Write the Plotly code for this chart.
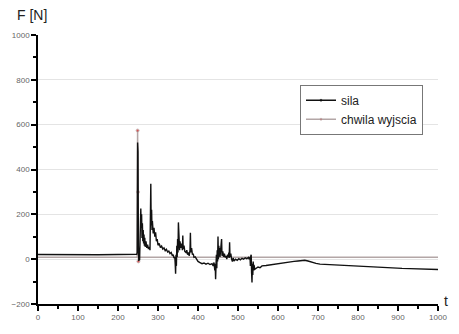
import plotly.graph_objects as go

# Force signal "sila" [N] vs time t
t_sila = [0, 50, 100, 150, 200, 247, 248, 249, 250, 251, 252, 253, 254, 255, 256, 257, 258, 259,
          260, 261, 262, 263, 264, 265, 266, 267, 268, 270, 272, 274, 276, 278, 280, 281, 282, 283,
          284, 285, 286, 288, 290, 292, 294, 296, 298, 300, 303, 306, 309, 312, 315, 318, 321, 324,
          327, 330, 333, 336, 338, 340, 342, 343, 344, 345, 346, 347, 348, 349, 350, 351, 352, 353,
          354, 355, 357, 359, 361, 362, 363, 365, 367, 370, 372, 374, 376, 378, 380, 381, 382, 384,
          386, 388, 390, 393, 396, 400, 405, 410, 415, 420, 425, 430, 435, 438, 440, 442, 443, 444,
          445, 446, 447, 448, 449, 450, 451, 452, 453, 454, 455, 456, 457, 458, 459, 460, 462, 464,
          466, 468, 470, 472, 474, 476, 477, 478, 479, 480, 482, 484, 486, 488, 490, 494, 498, 502,
          506, 510, 514, 518, 522, 526, 528, 530, 531, 532, 533, 534, 535, 536, 537, 538, 539, 540,
          542, 545, 550, 555, 560, 570, 580, 590, 600, 610, 620, 630, 640, 650, 660, 667, 675, 685,
          695, 705, 715, 728, 740, 760, 780, 795, 810, 830, 850, 870, 890, 910, 930, 950, 970, 990,
          1000]
f_sila = [21, 20, 21, 20, 21, 22, 30, 520, 480, 60, -8, 10, -5, 120, 70, 226, 140, 200,
          95, 160, 80, 130, 70, 110, 60, 95, 55, 80, 50, 65, 45, 55, 40, 200, 336, 150,
          220, 130, 170, 115, 140, 100, 120, 80, 90, 62, 70, 52, 58, 45, 50, 38, 44, 32,
          36, 25, 30, 15, 20, 5, 10, -20, -65, 20, -30, 60, 10, 90, 30, 164, 60, 110,
          40, 80, 50, 70, 40, 105, 45, 60, 35, 30, 40, 20, 30, 15, 40, 118, 30, 50,
          20, 25, 8, 10, -2, -10, -15, -20, -17, -22, -18, -24, -20, -30, -15, -50, -20, -90,
          -30, 20, -40, 40, -10, 101, 0, 60, 32, 50, 10, 40, 20, 55, 90, 15, 35, 10,
          25, 8, 15, 0, 20, 10, 30, 5, 75, 10, 25, 0, -11, 5, -8, 0, -5, 2,
          -3, 4, 0, 6, 2, 8, 0, 10, -30, 15, 20, -60, -104, -20, -70, -10, -50, -25,
          -45, -40, -35, -38, -30, -28, -25, -22, -20, -17, -14, -12, -10, -8, -6, -5, -8, -14,
          -19, -22, -23, -25, -26, -28, -30, -32, -34, -35, -37, -38, -40, -41, -42, -43, -44, -45,
          -46]

# Exit moment marker signal "chwila wyjscia"
t_exit = [0, 248, 249, 250, 251, 252, 1000]
f_exit = [8, 8, 574, 300, -10, 8, 8]

x_ticks = [0, 100, 200, 300, 400, 500, 600, 700, 800, 900, 1000]
y_ticks = [-200, 0, 200, 400, 600, 800, 1000]

FONT = "Liberation Sans, Arial, sans-serif"

fig = go.Figure()

fig.add_trace(go.Scatter(
    x=t_exit, y=f_exit, name="chwila wyjscia", mode="lines+markers",
    line=dict(color="#b3a6a6", width=1.5),
    marker=dict(color="#d02020", size=[0, 0, 3, 3, 3, 0, 0]),
))
fig.add_trace(go.Scatter(
    x=t_sila, y=f_sila, name="sila", mode="lines+markers",
    line=dict(color="#111111", width=1.4),
    marker=dict(color="#000000", size=[0] * len(t_sila)),
))

axis_common = dict(
    showline=True, linecolor="black", linewidth=1.5,
    ticks="outside", ticklen=5, tickwidth=1.5, tickcolor="black",
    tickfont=dict(family=FONT, size=8, color="#666666"),
    zeroline=False,
)

fig.update_xaxes(
    range=[0, 1000], tickvals=x_ticks, showgrid=False,
    minor=dict(ticks="outside", ticklen=3, tickwidth=1.5, tickcolor="black", dtick=50, showgrid=False),
    **axis_common,
)
fig.update_yaxes(
    range=[-200, 1000], tickvals=y_ticks, showgrid=True, gridcolor="#e4e4e4", gridwidth=1,
    minor=dict(ticks="outside", ticklen=3, tickwidth=1.5, tickcolor="black", dtick=100, showgrid=False),
    **axis_common,
)

fig.update_layout(
    width=459, height=334,
    margin=dict(l=38, r=15, t=35, b=21),
    paper_bgcolor="white", plot_bgcolor="white",
    font=dict(family=FONT),
    legend=dict(
        x=0.655, y=0.815, xanchor="left", yanchor="top",
        bordercolor="#777777", borderwidth=1, bgcolor="white",
        font=dict(family=FONT, size=12, color="#222222"),
        traceorder="reversed", tracegroupgap=0, itemwidth=30,
    ),
    showlegend=True,
    annotations=[
        dict(text="F [N]", xref="paper", yref="paper", x=-0.058, y=1.075,
             xanchor="left", yanchor="middle", showarrow=False,
             font=dict(family=FONT, size=14, color="#222222")),
        dict(text="t", xref="paper", yref="paper", x=1.01, y=0.01,
             xanchor="left", yanchor="middle", showarrow=False,
             font=dict(family=FONT, size=14, color="#222222")),
    ],
)

fig.write_html("out.html")
